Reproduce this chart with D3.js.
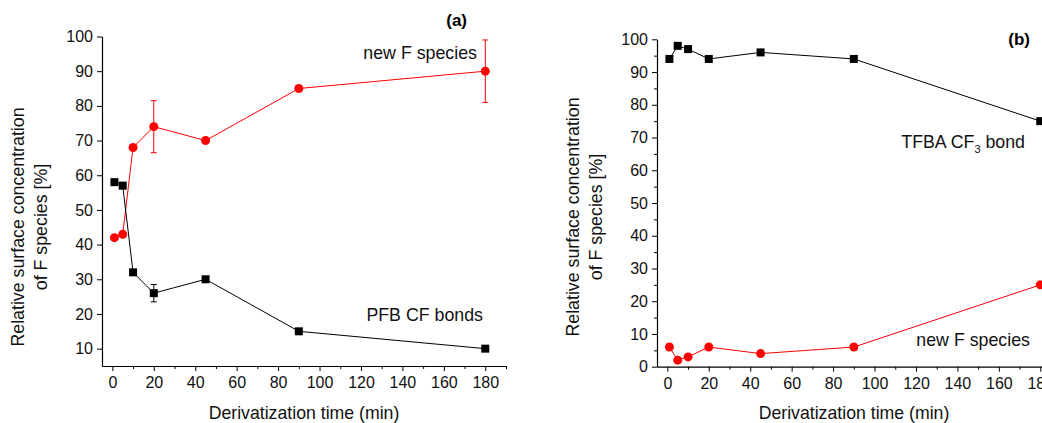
<!DOCTYPE html>
<html><head><meta charset="utf-8">
<script src="https://cdn.jsdelivr.net/npm/d3@7"></script>
<style>body{margin:0;background:#fff}svg{display:block;font-family:"Liberation Sans",Arial,sans-serif}</style>
</head><body><svg width="1042" height="423"></svg>
<script>
const times = [1, 5, 10, 20, 45, 90, 180];
// Panel (a)
const aNewF = [42, 43, 68, 74, 70, 85, 90];
const aNewFErr = [0, 0, 0, 7.5, 0, 0, 9];
const aPFB = [58, 57, 32, 26, 30, 15, 10];
const aPFBErr = [0, 0, 0, 2.5, 0, 0, 0];
// Panel (b)
const bTFBA = [94, 98, 97, 94, 96, 94, 75];
const bNewF = [6, 2, 3, 6, 4, 6, 25];
const xTicks = [0, 20, 40, 60, 80, 100, 120, 140, 160, 180];
const aYTicks = [10, 20, 30, 40, 50, 60, 70, 80, 90, 100];
const bYTicks = [0, 10, 20, 30, 40, 50, 60, 70, 80, 90, 100];

const svg = d3.select("svg");

function panel(cfg) {
  const g = svg.append("g");
  const x = d3.scaleLinear().domain([-5, 190]).range([cfg.x0, cfg.x0 + 404]);
  const y = d3.scaleLinear().domain(cfg.ydom).range([cfg.yb, cfg.yt]);
  const xMinor = d3.range(10, 191, 20);
  const yMinor = d3.range(cfg.ydom[0] + 5, cfg.ydom[1], 10).filter(v => v % 10 !== 0);
  g.append("g").attr("transform", `translate(0,${cfg.yb})`)
    .call(d3.axisBottom(x).tickValues(xMinor).tickSize(3).tickFormat(""))
    .call(a => a.select(".domain").remove());
  g.append("g").attr("transform", `translate(${cfg.x0},0)`)
    .call(d3.axisLeft(y).tickValues(yMinor).tickSize(3).tickFormat(""))
    .call(a => a.select(".domain").remove());
  const xa = g.append("g").attr("transform", `translate(0,${cfg.yb})`)
    .call(d3.axisBottom(x).tickValues(xTicks).tickSize(5).tickSizeOuter(0).tickPadding(6));
  const ya = g.append("g").attr("transform", `translate(${cfg.x0},0)`)
    .call(d3.axisLeft(y).tickValues(cfg.yticks).tickSize(5).tickSizeOuter(0).tickPadding(4));
  [xa, ya].forEach(a => {
    a.selectAll("text").attr("font-size", 16).attr("fill", "#111").attr("font-family", "Liberation Sans, Arial, sans-serif");
    a.select(".domain").attr("stroke", "#000").attr("stroke-width", 1.2);
  });
  g.selectAll(".tick line").attr("stroke", "#000");

  cfg.series.forEach(s => {
    const pts = times.map((t, i) => ({t, v: s.vals[i], e: s.err ? s.err[i] : 0}));
    g.append("path").datum(pts)
      .attr("d", d3.line().x(d => x(d.t)).y(d => y(d.v)))
      .attr("fill", "none").attr("stroke", s.color).attr("stroke-width", 1);
    pts.filter(d => d.e > 0).forEach(d => {
      const cx = x(d.t);
      g.append("line").attr("x1", cx).attr("x2", cx).attr("y1", y(d.v - d.e)).attr("y2", y(d.v + d.e)).attr("stroke", s.color).attr("stroke-width", 1);
      [d.v - d.e, d.v + d.e].forEach(v => g.append("line").attr("x1", cx - 3).attr("x2", cx + 3).attr("y1", y(v)).attr("y2", y(v)).attr("stroke", s.color).attr("stroke-width", 1));
    });
    if (s.shape === "square") {
      g.selectAll(null).data(pts).join("rect")
        .attr("x", d => x(d.t) - 4).attr("y", d => y(d.v) - 4).attr("width", 8).attr("height", 8).attr("fill", s.color);
    } else {
      g.selectAll(null).data(pts).join("circle")
        .attr("cx", d => x(d.t)).attr("cy", d => y(d.v)).attr("r", 4.5).attr("fill", s.color);
    }
  });
  g.append("text").attr("x", cfg.xtc).attr("y", 419).attr("text-anchor", "middle")
    .attr("font-size", 17.7).attr("fill", "#111").text("Derivatization time (min)");
  const yt = g.append("text").attr("transform", `translate(${cfg.ytx},${cfg.ytc}) rotate(-90)`).attr("text-anchor", "middle")
    .attr("font-size", 17.8).attr("fill", "#111");
  yt.append("tspan").attr("x", 0).attr("dy", 0).text("Relative surface concentration");
  yt.append("tspan").attr("x", 0).attr("dy", 22.5).text("of F species [%]");
  g.append("text").attr("x", cfg.lab.x).attr("y", cfg.lab.y).attr("text-anchor", "end")
    .attr("font-size", 17).attr("font-weight", "bold").attr("fill", "#000").text(cfg.lab.t);
  cfg.notes.forEach(n => {
    const t = g.append("text").attr("x", n.x).attr("y", n.y).attr("text-anchor", "end")
      .attr("font-size", 17.8).attr("fill", "#111");
    n.parts.forEach(p => {
      const ts = t.append("tspan").text(p.t);
      if (p.sub) ts.attr("font-size", 11).attr("dy", 5);
      if (p.after) ts.attr("dy", -5);
    });
  });
}

panel({
  x0: 102, yb: 366, yt: 36.5, ydom: [5, 100], yticks: aYTicks, xtc: 304,
  ytx: 24, ytc: 227,
  lab: {x: 467, y: 26, t: "(a)"},
  series: [
    {vals: aNewF, err: aNewFErr, color: "#ff0000", shape: "circle"},
    {vals: aPFB, err: aPFBErr, color: "#000000", shape: "square"}
  ],
  notes: [
    {x: 477, y: 59, parts: [{t: "new F species"}]},
    {x: 483, y: 321, parts: [{t: "PFB CF bonds"}]}
  ]
});
panel({
  x0: 657, yb: 366.7, yt: 39.3, ydom: [0, 100], yticks: bYTicks, xtc: 854,
  ytx: 579, ytc: 217,
  lab: {x: 1030, y: 45, t: "(b)"},
  series: [
    {vals: bTFBA, color: "#000000", shape: "square"},
    {vals: bNewF, color: "#ff0000", shape: "circle"}
  ],
  notes: [
    {x: 1025, y: 148, parts: [{t: "TFBA CF"}, {t: "3", sub: true}, {t: " bond", after: true}]},
    {x: 1030, y: 346, parts: [{t: "new F species"}]}
  ]
});
</script></body></html>
